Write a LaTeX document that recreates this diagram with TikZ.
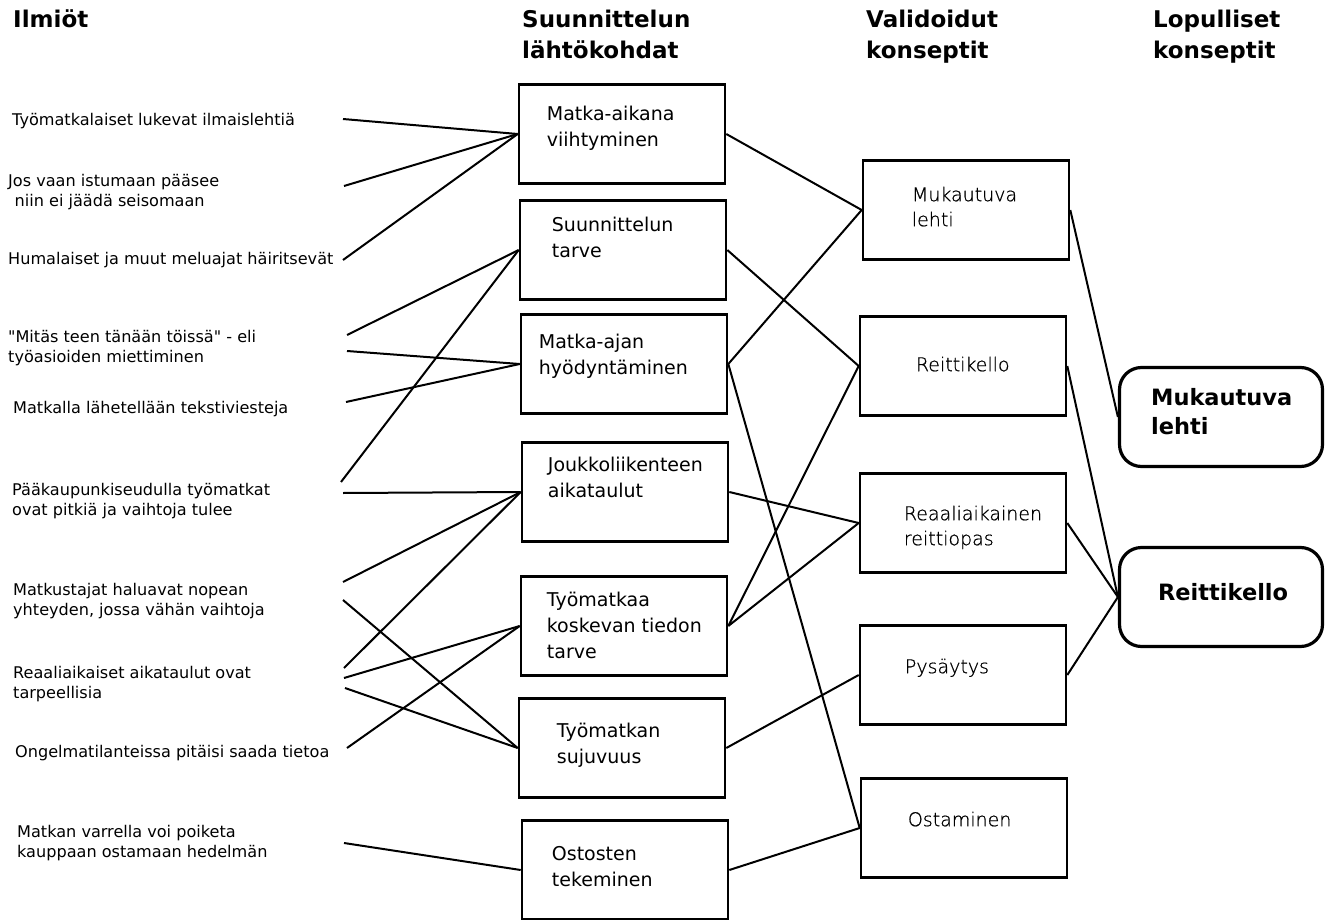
\documentclass[tikz,border=0pt]{standalone}
\usepackage{fontspec}
\setmainfont{DejaVu Sans}
\newfontfamily\ohut[FakeBold=0.8]{DejaVu Sans ExtraLight}
% suora lainausmerkki ilman tex-text -muunnosta
\newcommand{\lainaus}{\XeTeXglyph5 }

\tikzset{
	lahto/.style={draw, line width=2.6pt, minimum width=206pt, minimum height=99pt, inner sep=0pt},
	validi/.style={lahto},
	lopullinen/.style={draw, line width=3.2pt, rounded corners=22pt, minimum width=203pt, minimum height=99pt, inner sep=0pt},
	lahto teksti/.style={anchor=base west, align=left, inner sep=0pt, font=\fontsize{19}{26}\selectfont},
	validi teksti/.style={anchor=base west, align=left, inner sep=0pt, font=\fontsize{19}{25}\selectfont\ohut},
	lopullinen teksti/.style={anchor=base west, align=left, inner sep=0pt, font=\fontsize{22.5}{29}\selectfont\bfseries},
	ilmio/.style={anchor=base west, align=left, inner sep=0pt, font=\fontsize{16.1}{20}\selectfont},
	otsikko/.style={anchor=base west, align=left, inner sep=0pt, font=\fontsize{23}{31}\selectfont\bfseries},
	yhteys/.style={line width=2pt}
}

% teksti ankkuroidaan viimeisen rivin perusviivaan
\newcommand{\laatikko}[6] {
	\node[#1] (#2) at (#3) {};
	\node[#1 teksti] (#2t) at ([xshift=#4pt, yshift=-#5pt]#2.north west) {#6};
}

\begin{document}
\begin{tikzpicture}[x=1pt, y=-1pt]
	\useasboundingbox (0,0) rectangle (1325,920);

	% otsikot
	\node[otsikko] (h1) at (13,28) {Ilmiöt};
	\node[otsikko] (h2) at (522,59) {Suunnittelun\\lähtökohdat};
	\node[otsikko] (h3) at (866,59) {Validoidut\\konseptit};
	\node[otsikko] (h4) at (1153,59) {Lopulliset\\konseptit};

	% ilmiot
	\node[ilmio] (i1) at (12,126) {Työmatkalaiset lukevat ilmaislehtiä};
	\node[ilmio] (i2) at (8,207) {Jos vaan istumaan pääsee\\\hspace*{0.4em}niin ei jäädä seisomaan};
	\node[ilmio] (i3) at (8,265) {Humalaiset ja muut meluajat häiritsevät};
	\node[ilmio] (i4) at (8,362) {\lainaus Mitäs teen tänään töissä\lainaus\ - eli\\työasioiden miettiminen};
	\node[ilmio] (i5) at (13,413) {Matkalla lähetellään tekstiviesteja};
	\node[ilmio] (i6) at (12,515) {Pääkaupunkiseudulla työmatkat\\ovat pitkiä ja vaihtoja tulee};
	\node[ilmio] (i7) at (13,615) {Matkustajat haluavat nopean\\yhteyden, jossa vähän vaihtoja};
	\node[ilmio] (i8) at (13,698) {Reaaliaikaiset aikataulut ovat\\tarpeellisia};
	\node[ilmio] (i9) at (15,757) {Ongelmatilanteissa pitäisi saada tietoa};
	\node[ilmio] (i10) at (17,857) {Matkan varrella voi poiketa\\kauppaan ostamaan hedelmän};

	% suunnittelun lahtokohdat
	\laatikko{lahto}{b1}{622,134}{29}{63}{Matka-aikana\\viihtyminen}
	\laatikko{lahto}{b2}{623,250}{33}{58}{Suunnittelun\\tarve}
	\laatikko{lahto}{b3}{624,364}{19}{61}{Matka-ajan\\hyödyntäminen}
	\laatikko{lahto}{b4}{625,492}{27}{56}{Joukkoliikenteen\\aikataulut}
	\laatikko{lahto}{b5}{624,626}{27}{83}{Työmatkaa\\koskevan tiedon\\tarve}
	\laatikko{lahto}{b6}{622,748}{39}{66}{Työmatkan\\sujuvuus}
	\laatikko{lahto}{b7}{625,870}{31}{67}{Ostosten\\tekeminen}

	% validoidut
	\laatikko{validi}{c1}{966,210}{50}{67}{Mukautuva\\lehti}
	\laatikko{validi}{c2}{963,366}{57}{56}{Reittikello}
	\laatikko{validi}{c3}{963,523}{45}{73}{Reaaliaikainen\\reittiopas}
	\laatikko{validi}{c4}{963,675}{46}{49}{Pysäytys}
	\laatikko{validi}{c5}{964,828}{48}{49}{Ostaminen}

	% lopulliset
	\laatikko{lopullinen}{d1}{1221,417}{33}{69}{Mukautuva\\lehti}
	\laatikko{lopullinen}{d2}{1221,597}{40}{55}{Reittikello}

	% vapaat paat
	\coordinate (e1) at (343,119);
	\coordinate (e2) at (344,186);
	\coordinate (e3) at (343,260);
	\coordinate (e4a) at (347,335);
	\coordinate (e4b) at (347,351);
	\coordinate (e5) at (346,402);
	\coordinate (e6a) at (341,482);
	\coordinate (e6b) at (343,493);
	\coordinate (e7a) at (343,582);
	\coordinate (e7b) at (343,600);
	\coordinate (e8a) at (344,668);
	\coordinate (e8b) at (344,678);
	\coordinate (e8c) at (345,688);
	\coordinate (e9) at (347,748);
	\coordinate (e10) at (344,843);

	\draw[yhteys] (e1) -- (b1.west);
	\draw[yhteys] (e2) -- (b1.west);
	\draw[yhteys] (e3) -- (b1.west);
	\draw[yhteys] (e4a) -- (b2.west);
	\draw[yhteys] (e4b) -- (b3.west);
	\draw[yhteys] (e5) -- (b3.west);
	\draw[yhteys] (e6a) -- (b2.west);
	\draw[yhteys] (e6b) -- (b4.west);
	\draw[yhteys] (e7a) -- (b4.west);
	\draw[yhteys] (e7b) -- (b6.west);
	\draw[yhteys] (e8a) -- (b4.west);
	\draw[yhteys] (e8b) -- (b5.west);
	\draw[yhteys] (e8c) -- (b6.west);
	\draw[yhteys] (e9) -- (b5.west);
	\draw[yhteys] (e10) -- (b7.west);

	\draw[yhteys] (b1.east) -- (c1.west);
	\draw[yhteys] (b2.east) -- (c2.west);
	\draw[yhteys] (b3.east) -- (c1.west);
	\draw[yhteys] (b3.east) -- (c5.west);
	\draw[yhteys] (b4.east) -- (c3.west);
	\draw[yhteys] (b5.east) -- (c2.west);
	\draw[yhteys] (b5.east) -- (c3.west);
	\draw[yhteys] (b6.east) -- (c4.west);
	\draw[yhteys] (b7.east) -- (c5.west);

	\draw[yhteys] (c1.east) -- (d1.west);
	\draw[yhteys] (c2.east) -- (d2.west);
	\draw[yhteys] (c3.east) -- (d2.west);
	\draw[yhteys] (c4.east) -- (d2.west);
\end{tikzpicture}
\end{document}
